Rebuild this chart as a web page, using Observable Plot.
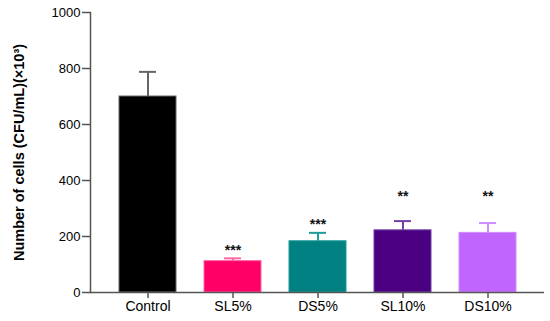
<!DOCTYPE html>
<html><head><meta charset="utf-8">
<script src="https://cdn.jsdelivr.net/npm/d3@7"></script>
<script src="https://cdn.jsdelivr.net/npm/@observablehq/plot@0.6"></script>
<style>body{margin:0;background:#fff}</style>
</head><body><div id="chart"></div>
<script>
const groups = ["Control", "SL5%", "DS5%", "SL10%", "DS10%"];
const means = [700, 112, 183, 222, 213];
const errors = [88, 10, 30, 33, 35];
const stars = ["", "***", "***", "**", "**"];
const starLevels = [null, 160, 255, 355, 355];
const fills = ["#000000", "#ff0066", "#008080", "#4b0082", "#c066ff"];
const errColors = ["#666666", "#ff66a6", "#1f9c9c", "#7040a8", "#cf8cff"];
const yTicks = [0, 200, 400, 600, 800, 1000];
const yLabel = "Number of cells (CFU/mL)(×10³)";

const data = groups.map((g, i) => ({
  g, m: means[i], top: means[i] + errors[i], s: stars[i], sy: starLevels[i],
  fill: fills[i], ec: errColors[i]
}));

const chart = Plot.plot({
  width: 550, height: 321,
  marginLeft: 90, marginRight: 6, marginTop: 12, marginBottom: 29,
  style: {fontFamily: "'Liberation Sans', Arial, sans-serif", fontSize: "13px", background: "#fff"},
  x: {domain: groups, padding: 0.33, align: 0.5},
  y: {domain: [0, 1000]},
  color: {type: "identity"},
  marks: [
    Plot.barY(data, {x: "g", y: "m", fill: "fill", stroke: "ec", strokeWidth: 1}),
    Plot.ruleX(data, {x: "g", y1: "m", y2: "top", stroke: "ec", strokeWidth: 2}),
    Plot.tickY(data, {x: "g", y: "top", stroke: "ec", strokeWidth: 2, insetLeft: 20, insetRight: 20}),
    Plot.text(data.filter(d => d.s), {x: "g", y: "sy", text: "s", fontSize: 14, fontWeight: "bold", fill: "#111", dy: 3}),
    Plot.axisY({ticks: yTicks, tickFormat: "d", tickSize: 8, tickPadding: 2, fontSize: 13, stroke: "#555", strokeWidth: 1.5, fill: "#000", label: null}),
    Plot.axisX({tickSize: 6, tickPadding: 3, fontSize: 14, stroke: "#555", strokeWidth: 1.5, fill: "#000", label: null}),
    Plot.frame({anchor: "left", stroke: "#555", strokeWidth: 1.5}),
    Plot.ruleY([0], {stroke: "#555", strokeWidth: 1.5}),
    Plot.text([yLabel], {frameAnchor: "left", textAnchor: "middle", rotate: -90, dx: -71, fontWeight: "bold", fontSize: 14.5, fill: "#000"})
  ]
});
document.getElementById("chart").appendChild(chart);
</script>
</body></html>
